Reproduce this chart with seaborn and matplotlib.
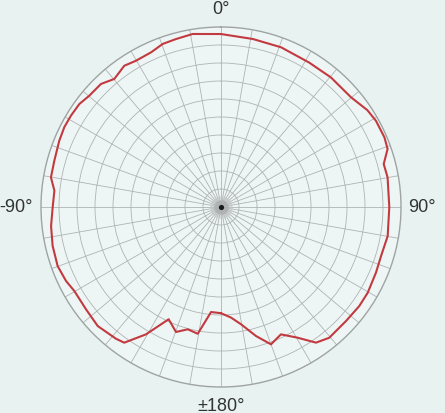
import numpy as np
import pandas as pd
import matplotlib
matplotlib.use("Agg")
import matplotlib.pyplot as plt
import seaborn as sns

# Angles (degrees, 0 = up, clockwise) and normalised radius of the red pattern
angles_deg = [-180, -174.6, -169.6, -164.8, -160.2, -155, -149.5, -144.5, -141.4,
              -134, -127.2, -119.8, -115.5, -109.9, -103, -96.4, -90, -84.4,
              -80.1, -74.5, -67.7, -63, -58.7, -54, -49.8, -44.3, -39.8, -34.4,
              -30.2, -24.3, -19.7, -15, -9.3, 0, 10.7, 20.6, 31.4, 40.3, 49.8,
              56.5, 60.9, 66.9, 70.8, 75.2, 79.9, 90, 99.9, 107, 113, 120.3,
              125.6, 132.4, 140.4, 145, 149.6, 154.8, 160, 164.8, 170.3, 174.8, 180]
radius = [0.59, 0.586, 0.716, 0.704, 0.738, 0.688, 0.821, 0.926, 0.936,
          0.952, 0.941, 0.939, 0.954, 0.965, 0.96, 0.95, 0.935, 0.93,
          0.959, 0.961, 0.971, 0.977, 0.976, 0.973, 0.958, 0.955, 0.926, 0.951,
          0.94, 0.943, 0.962, 0.966, 0.974, 0.961, 0.95, 0.948, 0.94, 0.944, 0.945,
          0.975, 0.985, 0.987, 0.98, 0.935, 0.94, 0.935, 0.94, 0.93, 0.935, 0.944,
          0.945, 0.94, 0.943, 0.92, 0.842, 0.782, 0.812, 0.743, 0.661, 0.617, 0.59]

label_angles = [0, 90, -90, 180]
label_texts = ["0°", "90°", "-90°", "±180°"]

sns.set_theme(style="white")
plt.rcParams["font.family"] = ["Liberation Sans", "DejaVu Sans"]

df = pd.DataFrame({"theta": np.deg2rad(angles_deg), "r": radius})

fig = plt.figure(figsize=(4.45, 4.14), dpi=100)
fig.patch.set_facecolor("#e7f2f1")
ax = fig.add_axes([41 / 445, 26 / 414, 360 / 445, 360 / 414], projection="polar")
ax.set_facecolor("#eef6f5")
ax.set_theta_zero_location("N")
ax.set_theta_direction(-1)
ax.set_ylim(0, 1)

ax.set_thetagrids(np.arange(0, 360, 10), labels=[""] * 36)
ax.set_rgrids(np.arange(0.1, 1.0, 0.1), labels=[""] * 9)
ax.grid(True, color="#aeb3b3", linewidth=0.6)
ax.spines["polar"].set_color("#9fa3a3")
ax.spines["polar"].set_linewidth(1.0)
ax.tick_params(pad=0)

sns.lineplot(data=df, x="theta", y="r", ax=ax, sort=False, estimator=None,
             color="#c23a40", linewidth=1.5)
ax.set_xlabel("")
ax.set_ylabel("")

# centre blob
ax.scatter([0], [0], s=260, color="#c2c5c5", alpha=0.6, zorder=3, linewidths=0)
ax.scatter([0], [0], s=110, color="#a8abab", alpha=0.7, zorder=3, linewidths=0)
ax.scatter([0], [0], s=14, color="#1a1a1a", zorder=4, linewidths=0)

fs = 13
ax.text(np.deg2rad(label_angles[0]), 1.055, label_texts[0], ha="center", va="bottom",
        fontsize=fs, color="#333333", clip_on=False)
ax.text(np.deg2rad(label_angles[1]), 1.04, label_texts[1], ha="left", va="center",
        fontsize=fs, color="#333333", clip_on=False)
ax.text(np.deg2rad(label_angles[2]), 1.045, label_texts[2], ha="right", va="center",
        fontsize=fs, color="#333333", clip_on=False)
ax.text(np.deg2rad(label_angles[3]), 1.055, label_texts[3], ha="center", va="top",
        fontsize=fs, color="#333333", clip_on=False)

fig.savefig("out.png", dpi=100, facecolor=fig.get_facecolor())
